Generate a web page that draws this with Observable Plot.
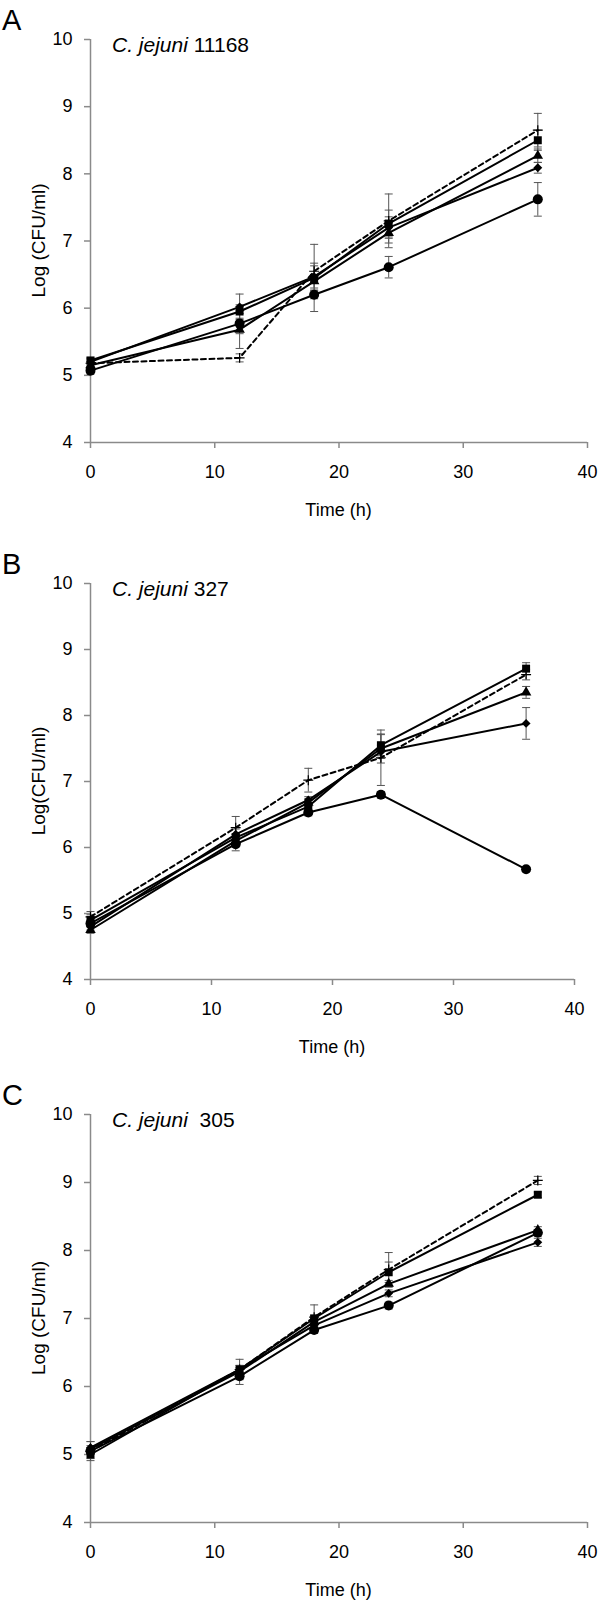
<!DOCTYPE html>
<html><head><meta charset="utf-8">
<script src="https://cdn.jsdelivr.net/npm/d3@7"></script>
<script src="https://cdn.jsdelivr.net/npm/@observablehq/plot@0.6"></script>
<style>
body{margin:0;background:#fff;}
#wrap{position:relative;width:600px;height:1602px;font-family:"Liberation Sans",Arial,sans-serif;}
.panel{position:absolute;left:0;}
</style></head><body><div id="wrap"></div>
<script>
// ---------- data ----------
const times = [0, 12, 18, 24, 36];
const seriesKeys = ["diamond", "square", "triangle", "circle", "plus"];
const yTicks = [4, 5, 6, 7, 8, 9, 10];
const xTicks = [0, 10, 20, 30, 40];

// Panel A: C. jejuni 11168
const aDiamond = [5.20, 6.02, 6.47, 7.20, 8.09];
const aSquare = [5.22, 5.95, 6.45, 7.26, 8.50];
const aTriangle = [5.15, 5.68, 6.40, 7.12, 8.27];
const aCircle = [5.07, 5.77, 6.20, 6.61, 7.62];
const aPlus = [5.18, 5.26, 6.55, 7.30, 8.65];
const aDiamondErr = [0.05, 0.19, 0.20, 0.16, 0.08];
const aSquareErr = [0.05, 0.10, 0.50, 0.20, 0.15];
const aTriangleErr = [0.05, 0.28, 0.10, 0.15, 0.10];
const aCircleErr = [0.05, 0.15, 0.06, 0.16, 0.25];
const aPlusErr = [0.05, 0.06, 0.08, 0.40, 0.25];

// Panel B: C. jejuni 327
const bDiamond = [4.80, 6.20, 6.72, 7.45, 7.88];
const bSquare = [4.90, 6.15, 6.62, 7.55, 8.71];
const bTriangle = [4.75, 6.10, 6.68, 7.50, 8.35];
const bCircle = [4.85, 6.05, 6.53, 6.80, 5.67];
const bPlus = [4.95, 6.30, 7.02, 7.36, 8.62];
const bDiamondErr = [0.05, 0.08, 0.05, 0.10, 0.24];
const bSquareErr = [0.08, 0.06, 0.06, 0.16, 0.09];
const bTriangleErr = [0.05, 0.06, 0.06, 0.22, 0.09];
const bCircleErr = [0.05, 0.10, 0.05, 0.05, 0.03];
const bPlusErr = [0.08, 0.17, 0.18, 0.42, 0.08];

// Panel C: C. jejuni 305
const cDiamond = [5.10, 6.25, 6.90, 7.37, 8.12];
const cSquare = [5.00, 6.25, 7.00, 7.68, 8.82];
const cTriangle = [5.08, 6.22, 6.95, 7.51, 8.30];
const cCircle = [5.05, 6.15, 6.83, 7.19, 8.26];
const cPlus = [5.05, 6.25, 7.02, 7.72, 9.03];
const cDiamondErr = [0.09, 0.06, 0.05, 0.05, 0.06];
const cSquareErr = [0.06, 0.06, 0.05, 0.15, 0.04];
const cTriangleErr = [0.05, 0.06, 0.05, 0.05, 0.05];
const cCircleErr = [0.05, 0.12, 0.05, 0.05, 0.05];
const cPlusErr = [0.14, 0.15, 0.18, 0.25, 0.06];

// ---------- layout ----------
const panels = [
  {letter: "A", strain: "11168", ylabel: "Log (CFU/ml)", top: 0, height: 545, mt: 39, mb: 103, mr: 13,
   values: [aDiamond, aSquare, aTriangle, aCircle, aPlus], errors: [aDiamondErr, aSquareErr, aTriangleErr, aCircleErr, aPlusErr]},
  {letter: "B", strain: "327", ylabel: "Log(CFU/ml)", top: 545, height: 533, mt: 38, mb: 99, mr: 26,
   values: [bDiamond, bSquare, bTriangle, bCircle, bPlus], errors: [bDiamondErr, bSquareErr, bTriangleErr, bCircleErr, bPlusErr]},
  {letter: "C", strain: "\u00a0305", ylabel: "Log (CFU/ml)", top: 1078, height: 524, mt: 36, mb: 80, mr: 13,
   values: [cDiamond, cSquare, cTriangle, cCircle, cPlus], errors: [cDiamondErr, cSquareErr, cTriangleErr, cCircleErr, cPlusErr]}
];

const cap = {draw(ctx) { ctx.moveTo(-4, 0); ctx.lineTo(4, 0); }};
const symbolStyle = {
  diamond: {symbol: "diamond2", r: 4.0},
  square: {symbol: "square", r: 4.5},
  triangle: {symbol: "triangle", r: 3.9},
  circle: {symbol: "circle", r: 5}
};
const axisGray = "#8a8a8a";
const errGray = "#555";
const ml = 90;
const wrap = document.getElementById("wrap");

panels.forEach(p => {
  const rows = [];
  seriesKeys.forEach((k, i) => times.forEach((t, j) => rows.push({series: k, t, v: p.values[i][j], e: p.errors[i][j]})));
  const solid = rows.filter(d => d.series !== "plus");
  const dashed = rows.filter(d => d.series === "plus");
  const marks = [
    Plot.ruleY([4], {stroke: axisGray, strokeWidth: 1.5}),
    Plot.ruleX([0], {stroke: axisGray, strokeWidth: 1.5}),
    Plot.axisY({ticks: yTicks, tickSize: 6, tickPadding: 12, stroke: axisGray, strokeWidth: 1.5, fill: "#000", label: null, tickFormat: d => String(d)}),
    Plot.axisX({ticks: xTicks, tickSize: 6, tickPadding: 17, stroke: axisGray, strokeWidth: 1.5, fill: "#000", label: null, tickFormat: d => String(d)}),
    Plot.ruleX(rows, {x: "t", y1: d => d.v - d.e, y2: d => d.v + d.e, stroke: errGray, strokeWidth: 1}),
    Plot.dot(rows, {x: "t", y: d => d.v + d.e, symbol: cap, stroke: errGray, strokeWidth: 1, fill: "none"}),
    Plot.dot(rows, {x: "t", y: d => d.v - d.e, symbol: cap, stroke: errGray, strokeWidth: 1, fill: "none"}),
    Plot.line(solid, {x: "t", y: "v", z: "series", stroke: "#000", strokeWidth: 2}),
    Plot.line(dashed, {x: "t", y: "v", stroke: "#000", strokeWidth: 2, strokeDasharray: "5,3.5"}),
    Plot.dot(dashed, {x: "t", y: "v", symbol: "plus", r: 3.3, stroke: "#000", strokeWidth: 1.2, fill: "none"})
  ];
  Object.entries(symbolStyle).forEach(([k, s]) => {
    marks.push(Plot.dot(rows.filter(d => d.series === k), {x: "t", y: "v", symbol: s.symbol, r: s.r, fill: "#000", stroke: "none"}));
  });
  const svg = Plot.plot({
    width: 600, height: p.height,
    marginTop: p.mt, marginBottom: p.mb, marginLeft: ml, marginRight: p.mr,
    x: {domain: [0, 40]},
    y: {domain: [4, 10]},
    style: {fontSize: "18px", fontFamily: "'Liberation Sans', Arial, sans-serif", background: "#fff", color: "#000"},
    marks
  });
  const s = d3.select(svg);
  const plotTop = p.mt, plotBottom = p.height - p.mb;
  const plotMidX = (ml + 600 - p.mr) / 2;
  s.append("text").attr("x", 2).attr("y", plotTop - 9).attr("text-anchor", "start")
    .attr("font-size", 29).attr("fill", "#000").text(p.letter);
  const t = s.append("text").attr("x", 112).attr("y", plotTop + 13).attr("text-anchor", "start")
    .attr("font-size", 21).attr("fill", "#000");
  t.append("tspan").attr("font-style", "italic").text("C. jejuni");
  t.append("tspan").text(" " + p.strain);
  s.append("text").attr("transform", `translate(45,${(plotTop + plotBottom) / 2}) rotate(-90)`)
    .attr("text-anchor", "middle").attr("font-size", 19).attr("fill", "#000").text(p.ylabel);
  s.append("text").attr("x", plotMidX).attr("y", plotBottom + 74).attr("text-anchor", "middle")
    .attr("font-size", 18).attr("fill", "#000").text("Time (h)");
  const div = document.createElement("div");
  div.className = "panel";
  div.style.top = p.top + "px";
  div.appendChild(svg);
  wrap.appendChild(div);
});
</script></body></html>
